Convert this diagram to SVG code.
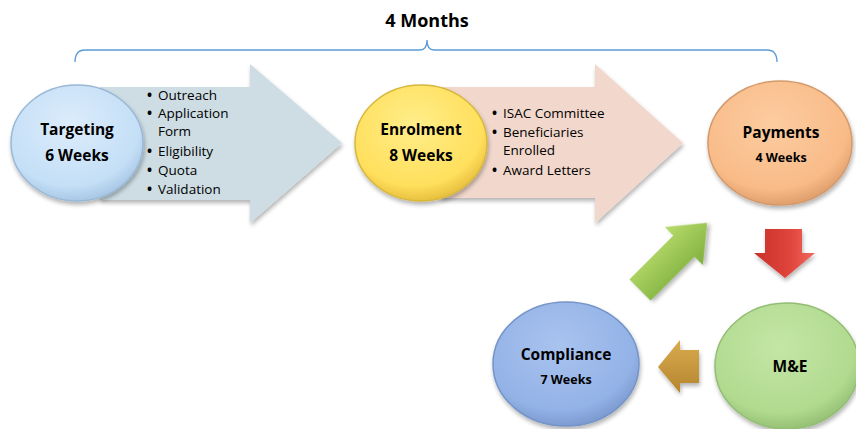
<svg xmlns="http://www.w3.org/2000/svg" width="856" height="429" viewBox="0 0 856 429">
<defs>
<style>
.t{font-family:"Open Sans","Liberation Sans",sans-serif;fill:#000}
.b{font-weight:bold;text-anchor:middle}
.l{font-size:13.5px}
.d{font-weight:bold}
.ttl{font-size:15.5px}
.sub{font-size:12.5px}
.brace{fill:none;stroke:#5b9bd5;stroke-width:1.3}
</style>
<filter id="sh" x="-20%" y="-20%" width="140%" height="140%">
<feGaussianBlur in="SourceAlpha" stdDeviation="2"/>
<feOffset dx="1" dy="3"/>
<feComponentTransfer><feFuncA type="linear" slope="0.3"/></feComponentTransfer>
<feMerge><feMergeNode/><feMergeNode in="SourceGraphic"/></feMerge>
</filter>
<radialGradient id="gBlue" cx="0.45" cy="0.35" r="0.65"><stop offset="0" stop-color="#dcecfc"/><stop offset="0.8" stop-color="#c4dff6"/><stop offset="1" stop-color="#a9c8e6"/></radialGradient>
<radialGradient id="gYel" cx="0.45" cy="0.35" r="0.65"><stop offset="0" stop-color="#ffee8a"/><stop offset="0.8" stop-color="#ffdf5c"/><stop offset="1" stop-color="#e8c040"/></radialGradient>
<radialGradient id="gOr" cx="0.45" cy="0.35" r="0.65"><stop offset="0" stop-color="#fccca0"/><stop offset="0.8" stop-color="#f9bb88"/><stop offset="1" stop-color="#e0a06e"/></radialGradient>
<radialGradient id="gCb" cx="0.45" cy="0.35" r="0.65"><stop offset="0" stop-color="#a9c3ef"/><stop offset="0.8" stop-color="#93b2e6"/><stop offset="1" stop-color="#7d9bd0"/></radialGradient>
<radialGradient id="gGr" cx="0.45" cy="0.35" r="0.65"><stop offset="0" stop-color="#c4e6a6"/><stop offset="0.8" stop-color="#b1da8f"/><stop offset="1" stop-color="#96c276"/></radialGradient>
<linearGradient id="aGreen" x1="0" y1="0" x2="0" y2="1"><stop offset="0" stop-color="#b8dc6c"/><stop offset="1" stop-color="#7fb03e"/></linearGradient>
<linearGradient id="aRed" x1="0" y1="0" x2="1" y2="0"><stop offset="0" stop-color="#c8302a"/><stop offset="0.6" stop-color="#e0453c"/><stop offset="1" stop-color="#f06a60"/></linearGradient>
<linearGradient id="aGold" x1="0" y1="0" x2="0" y2="1"><stop offset="0" stop-color="#d9ab4e"/><stop offset="1" stop-color="#b5852e"/></linearGradient>
</defs>

<g id="timespan">
<path class="brace" d="M75,62 Q75,50 85,50 L420,50 Q427,50 427,40 Q427,50 434,50 L767,50 Q777,50 777,62"/>
<text class="t b" x="427" y="27" font-size="18">4 Months</text>
</g>

<g id="connectors">
<polygon filter="url(#sh)" fill="#cddde3" points="100,87 250,87 250,64 342,143 250,223 250,200 100,200"/>
<polygon filter="url(#sh)" fill="#f2d8cc" points="440,87 595,87 595,64 683,143 595,223 595,198 440,198"/>
<polygon filter="url(#sh)" fill="url(#aRed)" points="765,229 802,229 802,253 815,253 785,278 754,253 765,253"/>
<polygon filter="url(#sh)" fill="url(#aGold)" points="699,350 680,350 680,340 658,367 680,393 680,383 699,383"/>
<polygon filter="url(#sh)" fill="url(#aGreen)" transform="translate(640,290) rotate(-45)" points="0,-15 62,-15 62,-27 95,0 62,27 62,15 0,15"/>
</g>

<g id="targeting" class="t">
<ellipse filter="url(#sh)" cx="77" cy="143" rx="66" ry="58" fill="url(#gBlue)" stroke="#9ab8d6" stroke-width="1.5"/>
<text class="b ttl" x="77" y="135">Targeting</text>
<text class="b ttl" x="77" y="161">6 Weeks</text>
<g class="l">
<text class="d" x="147" y="100">•</text><text x="158" y="100">Outreach</text>
<text class="d" x="147" y="118">•</text><text x="158" y="118">Application</text>
<text x="158" y="136">Form</text>
<text class="d" x="147" y="156">•</text><text x="158" y="156">Eligibility</text>
<text class="d" x="147" y="175">•</text><text x="158" y="175">Quota</text>
<text class="d" x="147" y="194">•</text><text x="158" y="194">Validation</text>
</g>
</g>

<g id="enrolment" class="t">
<ellipse filter="url(#sh)" cx="421" cy="143" rx="66" ry="58" fill="url(#gYel)" stroke="#d8b73c" stroke-width="1.5"/>
<text class="b ttl" x="421" y="135">Enrolment</text>
<text class="b ttl" x="421" y="161">8 Weeks</text>
<g class="l">
<text class="d" x="492" y="118">•</text><text x="503" y="118">ISAC Committee</text>
<text class="d" x="492" y="137">•</text><text x="503" y="137">Beneficiaries</text>
<text x="503" y="155">Enrolled</text>
<text class="d" x="492" y="175">•</text><text x="503" y="175">Award Letters</text>
</g>
</g>

<g id="payments" class="t">
<ellipse filter="url(#sh)" cx="780" cy="143" rx="72" ry="62" fill="url(#gOr)" stroke="#d49a6c" stroke-width="1.5"/>
<text class="b ttl" x="781" y="138">Payments</text>
<text class="b sub" x="781" y="162">4 Weeks</text>
</g>

<g id="me" class="t">
<ellipse filter="url(#sh)" cx="787" cy="366" rx="72" ry="63" fill="url(#gGr)" stroke="#92bd73" stroke-width="1.5"/>
<text class="b ttl" x="790" y="372">M&amp;E</text>
</g>

<g id="compliance" class="t">
<ellipse filter="url(#sh)" cx="566" cy="364" rx="73" ry="62" fill="url(#gCb)" stroke="#7494c8" stroke-width="1.5"/>
<text class="b ttl" x="566" y="360">Compliance</text>
<text class="b sub" x="566" y="384">7 Weeks</text>
</g>
</svg>
